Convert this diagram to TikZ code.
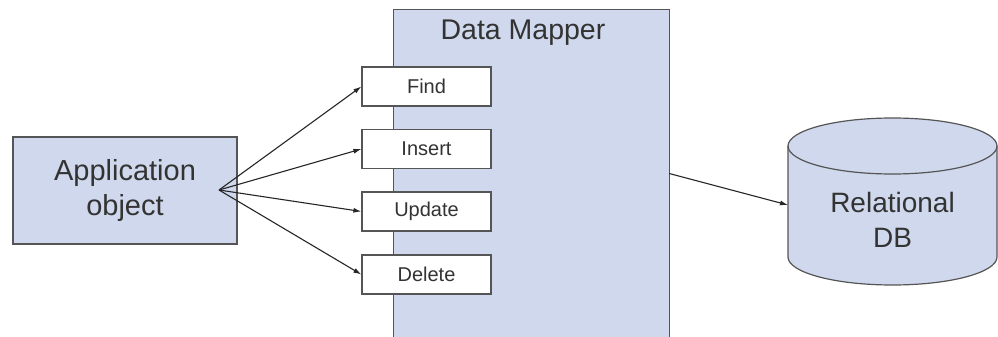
\documentclass[tikz,border=0pt]{standalone}
\usepackage{fontspec}
\setmainfont{Liberation Sans}
\usetikzlibrary{arrows.meta}
\definecolor{boxfill}{HTML}{CFD8EC}
\definecolor{edge}{HTML}{555555}
\definecolor{txt}{HTML}{333333}
\tikzset{
  bluebox/.style={draw=edge, line width=1.2pt, fill=boxfill, text=txt, align=center, inner sep=0pt},
  opbox/.style={draw=edge, line width=1.2pt, fill=white, text=txt, minimum width=129pt, minimum height=39pt, inner sep=0pt, font=\fontsize{20}{22}\selectfont},
  arr/.style={draw=black!85, line width=1.1pt, -{Latex[length=8pt,width=5pt]}},
}
\begin{document}
\begin{tikzpicture}[x=1pt,y=-1pt]
\useasboundingbox[fill=white] (0,0) rectangle (998,337);
% Application object
\node[bluebox, minimum width=224pt, minimum height=107pt, font=\fontsize{29}{35}\selectfont] (app) at (125,190.5) {Application\\object};
\coordinate (src) at (219,190);
% Data Mapper
\node[fill=boxfill, minimum width=275pt, minimum height=327pt, inner sep=0pt] (dm) at (531.5,173.5) {};
\draw[edge, line width=1.2pt] (dm.south west) -- (dm.north west) -- (dm.north east) -- (dm.south east);
\node[text=txt, font=\fontsize{28.5}{32}\selectfont] (dmtitle) at (523,33) {Data Mapper};
% operations
\node[opbox] (find) at (426.5,86.5) {Find};
\node[opbox] (insert) at (426.5,149) {Insert};
\node[opbox] (update) at (426.5,211.5) {Update};
\node[opbox] (delete) at (426.5,274.5) {Delete};
\draw[arr] (src) -- (find.west);
\draw[arr] (src) -- (insert.west);
\draw[arr] (src) -- (update.west);
\draw[arr] (src) -- (delete.west);
% cylinder
\filldraw[fill=boxfill, draw=edge, line width=1.2pt]
  (788,146) -- (788,257) arc[start angle=180, end angle=360, x radius=104.5pt, y radius=28pt]
  -- (997,146) arc[start angle=0, end angle=180, x radius=104.5pt, y radius=28pt] -- cycle;
\draw[edge, line width=1.2pt] (788,146) arc[start angle=180, end angle=360, x radius=104.5pt, y radius=28pt];
\node[text=txt, align=center, font=\fontsize{28}{35}\selectfont] (db) at (892.5,220) {Relational\\DB};
\coordinate (dbw) at (788,205);
\draw[arr] (dm.east) -- (dbw);
\end{tikzpicture}
\end{document}
